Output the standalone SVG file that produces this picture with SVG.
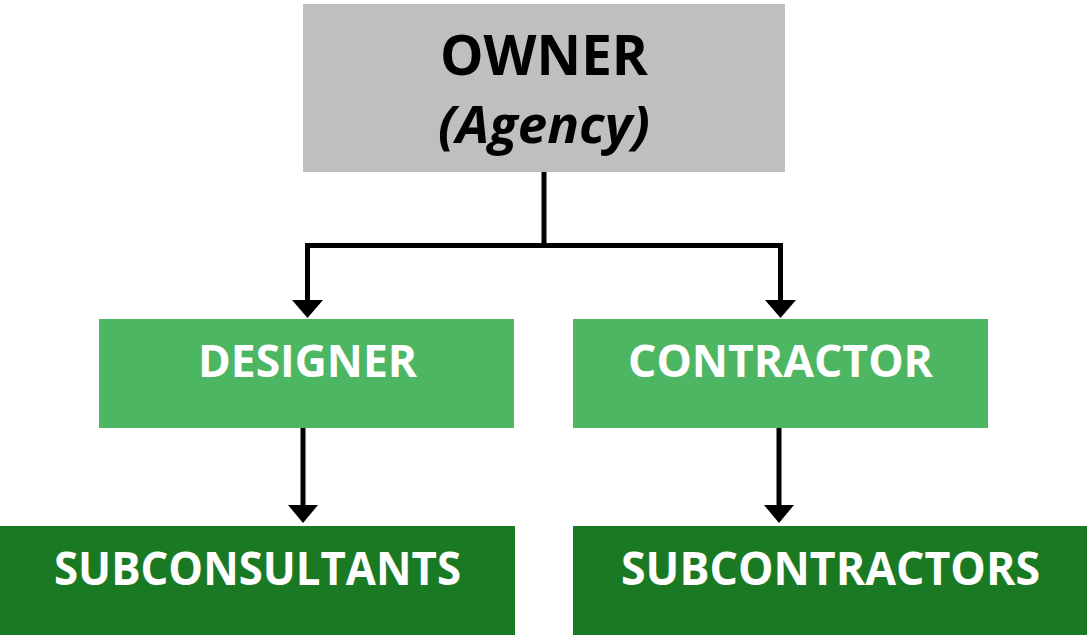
<svg xmlns="http://www.w3.org/2000/svg" width="1087" height="635" viewBox="0 0 1087 635">
<style>
.lbl{font-family:"Open Sans","Liberation Sans",sans-serif;font-weight:bold;}
.w{fill:#ffffff;}
.k{fill:#000000;}
.conn{stroke:#000;stroke-width:5;fill:none;}
</style>
<defs>
<marker id="ah" viewBox="0 0 30 18" refX="15" refY="17" markerWidth="30" markerHeight="18" markerUnits="userSpaceOnUse" orient="auto-start-reverse">
<path d="M0,0 L30,0 L15,18 Z" fill="#000"/>
</marker>
</defs>
<rect width="1087" height="635" fill="#ffffff"/>
<g id="connectors">
<path class="conn" d="M544,172 V245.5 H307.5 V300"/>
<path class="conn" d="M544,245.5 H780.5 V300"/>
<path d="M292,300 L323,300 L307.5,318 Z" fill="#000"/>
<path d="M765,300 L796,300 L780.5,318 Z" fill="#000"/>
<path class="conn" d="M303,428 V505"/>
<path class="conn" d="M779,428 V505"/>
<path d="M288,505 L318,505 L303,523 Z" fill="#000"/>
<path d="M764,505 L794,505 L779,523 Z" fill="#000"/>
</g>
<g id="owner">
<rect x="303" y="4" width="482" height="168" fill="#bfbfbf"/>
<text class="lbl k" x="440" y="75" font-size="56" textLength="208" lengthAdjust="spacingAndGlyphs">OWNER</text>
<text class="lbl k" x="438" y="143" font-size="52" font-style="italic" textLength="212" lengthAdjust="spacingAndGlyphs">(Agency)</text>
</g>
<g id="designer">
<rect x="99" y="319" width="415" height="109" fill="#4db663"/>
<text class="lbl w" x="198" y="377" font-size="45" textLength="219" lengthAdjust="spacingAndGlyphs">DESIGNER</text>
</g>
<g id="contractor">
<rect x="573" y="319" width="415" height="109" fill="#4db663"/>
<text class="lbl w" x="628" y="377" font-size="45" textLength="305" lengthAdjust="spacingAndGlyphs">CONTRACTOR</text>
</g>
<g id="subconsultants">
<rect x="0" y="526" width="515" height="109" fill="#1a7a23"/>
<text class="lbl w" x="54" y="585" font-size="46" textLength="407" lengthAdjust="spacingAndGlyphs">SUBCONSULTANTS</text>
</g>
<g id="subcontractors">
<rect x="573" y="526" width="514" height="109" fill="#1a7a23"/>
<text class="lbl w" x="621" y="585" font-size="46" textLength="419" lengthAdjust="spacingAndGlyphs">SUBCONTRACTORS</text>
</g>
</svg>
